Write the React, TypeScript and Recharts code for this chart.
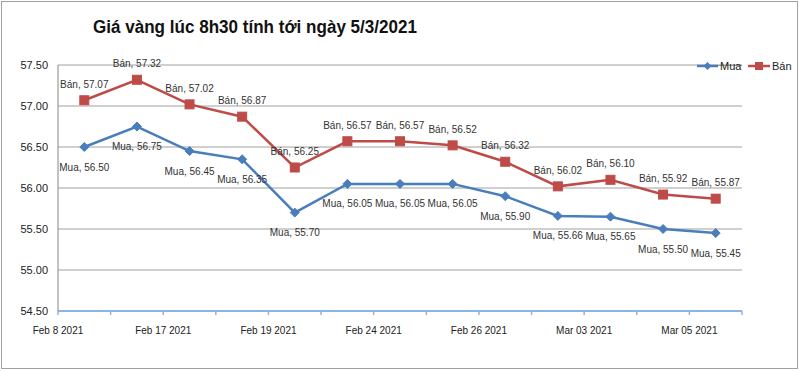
import React from 'react';
import { LineChart, Line, XAxis, YAxis, CartesianGrid, LabelList } from 'recharts';

const dates = ['Feb 8 2021', '', 'Feb 17 2021', '', 'Feb 19 2021', '', 'Feb 24 2021', '', 'Feb 26 2021', '', 'Mar 03 2021', '', 'Mar 05 2021'];
const mua = [56.5, 56.75, 56.45, 56.35, 55.7, 56.05, 56.05, 56.05, 55.9, 55.66, 55.65, 55.5, 55.45];
const ban = [57.07, 57.32, 57.02, 56.87, 56.25, 56.57, 56.57, 56.52, 56.32, 56.02, 56.1, 55.92, 55.87];
const yTicks = [54.5, 55, 55.5, 56, 56.5, 57, 57.5];
const boundaryTicks = Array.from({ length: dates.length + 1 }, (_, i) => i);

const data = mua.map((m, i) => ({ x: i + 0.5, mua: m, ban: ban[i] }));

const BLUE = '#4A7EBB';
const RED = '#BE4B48';
const FONT = '"Liberation Sans", Arial, sans-serif';

const Diamond = (props: any) => {
  const { cx, cy } = props;
  if (cx == null || cy == null) return null;
  const r = 4.5;
  return <path d={`M${cx},${cy - r}L${cx + r},${cy}L${cx},${cy + r}L${cx - r},${cy}Z`} fill={BLUE} stroke={BLUE} />;
};

const Square = (props: any) => {
  const { cx, cy } = props;
  if (cx == null || cy == null) return null;
  const s = 9;
  return <rect x={cx - s / 2} y={cy - s / 2} width={s} height={s} fill={RED} stroke={RED} />;
};

const makeLabel = (name: string, dy: number) => (props: any) => {
  const { x, y, value } = props;
  return (
    <text x={x} y={y + dy} textAnchor="middle" dominantBaseline="central" fontSize={10} fill="#333" fontFamily={FONT}>
      {`${name}, ${Number(value).toFixed(2)}`}
    </text>
  );
};

export default function App() {
  return (
    <div style={{ position: 'absolute', left: 0, top: 0, width: 800, height: 371, background: '#fff', fontFamily: FONT }}>
      <div style={{ position: 'absolute', left: 1, top: 1, width: 795, height: 366, border: '1px solid #A0A0A0' }} />
      <svg style={{ position: 'absolute', left: 0, top: 0 }} width={800} height={50}>
        <text x={93} y={33} fontSize={18} fontWeight="bold" fill="#111" fontFamily={FONT} textLength={324} lengthAdjust="spacingAndGlyphs">
          Giá vàng lúc 8h30 tính tới ngày 5/3/2021
        </text>
      </svg>
      <div style={{ position: 'absolute', left: 0, top: 0 }}>
        <LineChart width={800} height={371} data={data} margin={{ top: 65, right: 58, bottom: 30, left: 0 }}>
          <CartesianGrid vertical={false} stroke="#A0A0A0" strokeWidth={1} />
          <XAxis
            dataKey="x"
            type="number"
            domain={[0, dates.length]}
            ticks={boundaryTicks}
            interval={0}
            height={30}
            tickFormatter={(v: number) => dates[v] || ''}
            axisLine={{ stroke: '#8EB4E3', strokeWidth: 2 }}
            tickLine={{ stroke: '#8EB4E3', strokeWidth: 1.5 }}
            tickSize={4}
            tickMargin={12}
            tick={{ fontSize: 10, fill: '#222', fontFamily: FONT }}
          />
          <YAxis
            type="number"
            domain={[54.5, 57.5]}
            ticks={yTicks}
            interval={0}
            width={58}
            tickFormatter={(v: number) => v.toFixed(2)}
            axisLine={{ stroke: '#868686' }}
            tickLine={false}
            tickMargin={4}
            tick={{ fontSize: 11, fill: '#222', fontFamily: FONT }}
          />
          <Line type="linear" dataKey="mua" stroke={BLUE} strokeWidth={2.5} dot={<Diamond />} activeDot={false} isAnimationActive={false}>
            <LabelList dataKey="mua" content={makeLabel('Mua', 20)} />
          </Line>
          <Line type="linear" dataKey="ban" stroke={RED} strokeWidth={2.5} dot={<Square />} activeDot={false} isAnimationActive={false}>
            <LabelList dataKey="ban" content={makeLabel('Bán', -16)} />
          </Line>
        </LineChart>
      </div>
      <svg style={{ position: 'absolute', left: 0, top: 0 }} width={800} height={100}>
        <line x1={742} y1={65.5} x2={697} y2={65.5} stroke="#A0A0A0" strokeWidth={1} />
        <line x1={697} y1={66} x2={718} y2={66} stroke={BLUE} strokeWidth={2.5} />
        <path d="M707.5,62L711.5,66L707.5,70L703.5,66Z" fill={BLUE} />
        <text x={720} y={66} dominantBaseline="central" fontSize={11} fill="#222" fontFamily={FONT}>Mua</text>
        <line x1={748} y1={66} x2={770} y2={66} stroke={RED} strokeWidth={2.5} />
        <rect x={755} y={62} width={8} height={8} fill={RED} />
        <text x={772} y={66} dominantBaseline="central" fontSize={11} fill="#222" fontFamily={FONT}>Bán</text>
      </svg>
    </div>
  );
}
